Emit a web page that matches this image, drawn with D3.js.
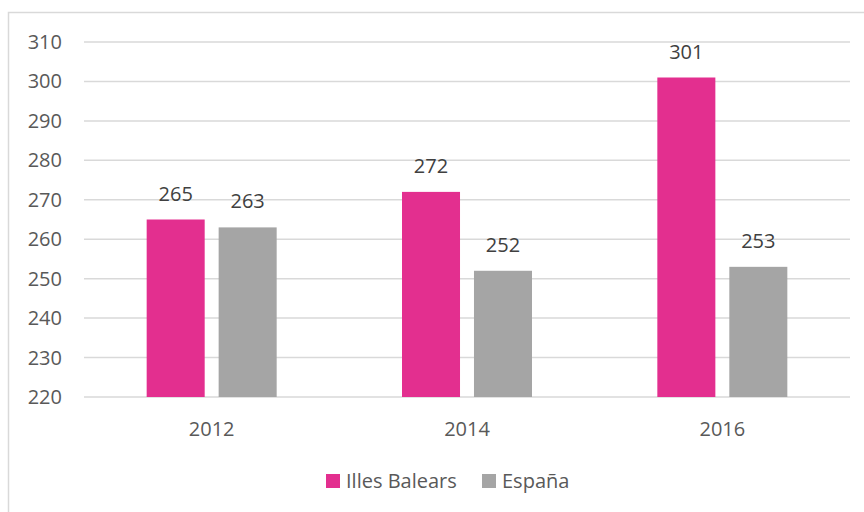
<!DOCTYPE html>
<html>
<head>
<meta charset="utf-8">
<script src="https://cdn.jsdelivr.net/npm/d3@7"></script>
<style>
  body { margin: 0; background: #fff; }
  text { font-family: "Open Sans", "Noto Sans", sans-serif; }
</style>
</head>
<body>
<svg id="chart" width="864" height="512"></svg>
<script>
const years = ['2012', '2014', '2016'];
const seriesNames = ['Illes Balears', 'España'];
const balears = [265, 272, 301];
const espana = [263, 252, 253];
const yTicks = [220, 230, 240, 250, 260, 270, 280, 290, 300, 310];
const colors = ['#e32f8f', '#a5a5a5'];

const svg = d3.select('#chart');
const plot = { left: 84, right: 850, top: 42, bottom: 397 };
const fontSize = 20;

// outer frame
svg.append('rect')
  .attr('x', 8.5).attr('y', 12.5)
  .attr('width', 870).attr('height', 520)
  .attr('fill', 'none')
  .attr('stroke', '#d9d9d9')
  .attr('stroke-width', 1.5);

const y = d3.scaleLinear().domain([220, 310]).range([plot.bottom, plot.top]);
const x0 = d3.scaleBand().domain(years).range([plot.left, plot.right]);
const groupWidth = 130;
const x1 = d3.scaleBand().domain(seriesNames)
  .range([(x0.bandwidth() - groupWidth) / 2, (x0.bandwidth() + groupWidth) / 2])
  .paddingInner(0.194);

// gridlines
svg.append('g').selectAll('line').data(yTicks).join('line')
  .attr('x1', plot.left).attr('x2', plot.right)
  .attr('y1', d => y(d)).attr('y2', d => y(d))
  .attr('stroke', '#d9d9d9').attr('stroke-width', 1.5);

// y tick labels
svg.append('g').selectAll('text').data(yTicks).join('text')
  .attr('x', 62).attr('y', d => y(d))
  .attr('dy', '0.35em')
  .attr('text-anchor', 'end')
  .attr('font-size', fontSize)
  .attr('fill', '#595959')
  .text(d => d);

const rows = years.map((yr, i) => ({
  year: yr,
  values: [
    { name: seriesNames[0], value: balears[i], color: colors[0] },
    { name: seriesNames[1], value: espana[i], color: colors[1] }
  ]
}));

const groups = svg.append('g').selectAll('g').data(rows).join('g')
  .attr('transform', d => `translate(${x0(d.year)},0)`);

groups.selectAll('rect').data(d => d.values).join('rect')
  .attr('x', d => x1(d.name))
  .attr('width', x1.bandwidth())
  .attr('y', d => y(d.value))
  .attr('height', d => y(220) - y(d.value))
  .attr('fill', d => d.color);

groups.selectAll('text.val').data(d => d.values).join('text')
  .attr('class', 'val')
  .attr('x', d => x1(d.name) + x1.bandwidth() / 2)
  .attr('y', d => y(d.value) - 19)
  .attr('text-anchor', 'middle')
  .attr('font-size', fontSize)
  .attr('fill', '#404040')
  .text(d => d.value);

// x labels
svg.append('g').selectAll('text').data(years).join('text')
  .attr('x', d => x0(d) + x0.bandwidth() / 2)
  .attr('y', 436)
  .attr('text-anchor', 'middle')
  .attr('font-size', fontSize)
  .attr('fill', '#595959')
  .text(d => d);

// legend
const legendItems = [
  { name: seriesNames[0], color: colors[0], x: 326 },
  { name: seriesNames[1], color: colors[1], x: 482 }
];
const legend = svg.append('g').selectAll('g').data(legendItems).join('g')
  .attr('transform', d => `translate(${d.x},474)`);
legend.append('rect')
  .attr('width', 14).attr('height', 14)
  .attr('fill', d => d.color);
legend.append('text')
  .attr('x', 20).attr('y', 7)
  .attr('dy', '0.35em')
  .attr('font-size', fontSize)
  .attr('fill', '#595959')
  .text(d => d.name);
</script>
</body>
</html>
